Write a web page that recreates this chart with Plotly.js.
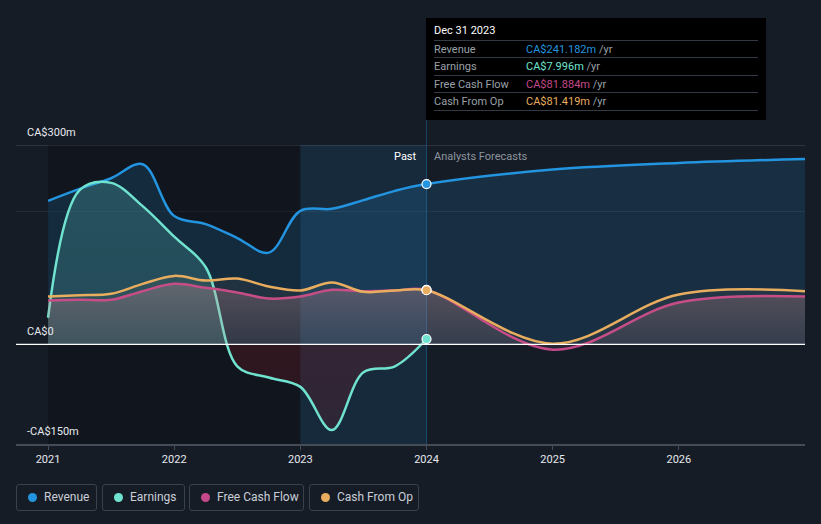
<!DOCTYPE html>
<html><head><meta charset="utf-8">
<script src="https://cdn.plot.ly/plotly-3.0.1.min.js"></script>
<style>
html,body{margin:0;padding:0;background:#161c26;overflow:hidden;}
#wrap{position:relative;width:821px;height:524px;font-family:Roboto,"Open Sans",sans-serif;}
#chart{position:absolute;left:0;top:0;width:821px;height:524px;}
#tip{position:absolute;left:426px;top:18px;width:340px;height:102px;background:#000;font-size:11px;}
#tip .hd{position:absolute;left:8px;top:6px;color:#fff;}
#tip .row{position:absolute;left:8px;width:324px;height:17px;border-top:1px solid #333a44;}
#tip .lb{position:absolute;left:0;top:2px;color:#9aa0a8;}
#tip .vl{position:absolute;left:92px;top:2px;}
#tip .yr{color:#9aa0a8;}
#tip .last{position:absolute;left:8px;width:324px;top:92px;border-top:1px solid #333a44;}
#legend{position:absolute;top:484px;left:16px;font-size:12px;color:#c9ced6;}
.lg{position:absolute;top:0;height:27px;border:1px solid #3a414c;border-radius:3px;box-sizing:border-box;}
.lg .dot{position:absolute;left:11px;top:8px;width:9px;height:9px;border-radius:50%;}
.lg .tx{position:absolute;left:27px;top:5px;white-space:nowrap;}
</style></head>
<body><div id="wrap"><div id="chart"></div>
<div id="tip"></div>
<div id="legend"></div>
</div>
<script>
// ---- data (CA$ millions) ----
const pastX = [2021.0, 2021.25, 2021.5, 2021.75, 2022.0, 2022.25, 2022.5, 2022.75, 2023.0, 2023.25, 2023.5, 2023.75, 2024.0];
const revenuePast  = [216, 234, 250, 271, 193, 181, 160, 138, 201, 204, 217, 231, 241.182];
const earningsPast = [40, 232, 243, 208, 162, 116, -33, -50, -64, -129, -42, -33, 7.996];
const fcfPast      = [66, 67, 67, 80, 91, 85, 78, 69, 72, 82, 80, 81, 81.884];
const cfoPast      = [72, 74, 76, 91, 103, 96, 99, 87, 81, 93, 79, 81, 81.419];
const forecastX = [2025, 2026, 2027];
const revenueForecast = [263, 273, 279];
const fcfForecast     = [-8, 63, 72];
const cfoForecast     = [1, 75, 80];
const yTickVals = [300, 0, -150];
const yTickText = ["CA$300m", "CA$0", "-CA$150m"];
const xTickVals = [2021, 2022, 2023, 2024, 2025, 2026];
const names = ["Revenue", "Earnings", "Free Cash Flow", "Cash From Op"];
const colors = ["#2394df", "#6fe3cf", "#c5488a", "#e8ad5e"];
const tipDate = "Dec 31 2023";
const tipValues = ["CA$241.182m", "CA$7.996m", "CA$81.884m", "CA$81.419m"];

const allX = pastX.concat(forecastX);
const revenue = revenuePast.concat(revenueForecast);
const fcf = fcfPast.concat(fcfForecast);
const cfo = cfoPast.concat(cfoForecast);
const last = pastX.length - 1;

function line(x, y, color, fillcolor, extra) {
  return Object.assign({
    type: 'scatter', mode: 'lines', x: x, y: y,
    line: {color: color, width: 2.5, shape: 'spline', smoothing: 1},
    fill: 'tozeroy', fillcolor: fillcolor, hoverinfo: 'skip', showlegend: false
  }, extra || {});
}
const traces = [
  line(allX, revenue, colors[0], 'rgba(35,148,223,0.16)'),
  line(pastX, earningsPast, colors[1], 'rgba(111,227,207,0.3)', {
    fillgradient: {type: 'vertical', start: -150, stop: 300,
      colorscale: [[0, 'rgba(120,25,35,0.22)'], [0.333, 'rgba(120,25,35,0.3)'],
                   [0.334, 'rgba(95,200,195,0.2)'], [1, 'rgba(95,200,195,0.26)']]}
  }),
  line(allX, fcf, colors[2], 'rgba(197,72,138,0.16)', {
    fillgradient: {type: 'vertical', start: 0, stop: 100,
      colorscale: [[0, 'rgba(200,130,150,0.1)'], [1, 'rgba(210,150,160,0.32)']]}
  }),
  line(allX, cfo, colors[3], 'rgba(232,173,94,0.06)'),
  {type: 'scatter', mode: 'markers', x: [pastX[last], pastX[last], pastX[last], pastX[last]],
   y: [revenuePast[last], earningsPast[last], fcfPast[last], cfoPast[last]],
   marker: {size: 9, color: [colors[0], colors[1], colors[2], colors[3]], line: {color: '#fff', width: 1.2}},
   hoverinfo: 'skip', showlegend: false}
];
const annotations = yTickVals.map((v, i) => ({
  xref: 'paper', x: 0, xanchor: 'left', xshift: 9, yref: 'y', y: v, yanchor: 'bottom', yshift: 4,
  text: yTickText[i], showarrow: false, font: {color: '#e6e9ee', size: 11}
}));
annotations.push({xref: 'x', x: 2024, xanchor: 'right', xshift: -8, yref: 'y', y: 300, yanchor: 'top', yshift: -3,
  text: 'Past', showarrow: false, font: {color: '#ffffff', size: 11}});
annotations.push({xref: 'x', x: 2024, xanchor: 'left', xshift: 5, yref: 'y', y: 300, yanchor: 'top', yshift: -3,
  text: 'Analysts Forecasts', showarrow: false, font: {color: '#8d949e', size: 11}});

const shapes = [
  {type: 'rect', layer: 'below', xref: 'x', yref: 'y', x0: 2021, x1: 2023, y0: -150, y1: 300,
   fillcolor: 'rgba(0,0,0,0.2)', line: {width: 0}},
  {type: 'rect', layer: 'below', xref: 'x', yref: 'y', x0: 2023, x1: 2024, y0: -150, y1: 300,
   fillcolor: 'rgba(35,148,223,0.12)', line: {width: 0}},
  {type: 'line', layer: 'below', xref: 'x', yref: 'paper', x0: 2024, x1: 2024, y0: 0, y1: 1.085,
   line: {color: 'rgba(35,148,223,0.35)', width: 1}},
  {type: 'line', layer: 'below', xref: 'paper', yref: 'y', x0: 0, x1: 1, y0: 300, y1: 300,
   line: {color: '#454c57', width: 1}},
  {type: 'line', layer: 'below', xref: 'paper', yref: 'y', x0: 0, x1: 1, y0: 200, y1: 200,
   line: {color: 'rgba(255,255,255,0.07)', width: 1}},
  {type: 'line', layer: 'above', xref: 'paper', yref: 'y', x0: 0, x1: 1, y0: 0, y1: 0,
   line: {color: '#ffffff', width: 1.2}}
];

const layout = {
  width: 821, height: 524,
  margin: {l: 16, r: 16, t: 145, b: 80},
  paper_bgcolor: '#161c26', plot_bgcolor: '#161c26',
  font: {family: 'Roboto, "Open Sans", sans-serif', color: '#e6e9ee', size: 11},
  xaxis: {range: [2020.746, 2027], tickvals: xTickVals, ticktext: xTickVals.map(String),
    showgrid: false, zeroline: false, showline: true, linecolor: '#454c57', linewidth: 1.5,
    ticks: 'outside', ticklen: 4, tickcolor: '#454c57', tickfont: {size: 11, color: '#e6e9ee'}, fixedrange: true},
  yaxis: {range: [-150, 300], showgrid: false, zeroline: false, showticklabels: false, fixedrange: true},
  shapes: shapes, annotations: annotations, showlegend: false
};
Plotly.newPlot('chart', traces, layout, {staticPlot: true, displayModeBar: false});

// tooltip
const tip = document.getElementById('tip');
let html = '<div class="hd">' + tipDate + '</div>';
names.forEach((n, i) => {
  html += '<div class="row" style="top:' + (22 + i * 17.3) + 'px"><span class="lb">' + n +
    '</span><span class="vl"><span style="color:' + colors[i] + '">' + tipValues[i] + '</span> <span class="yr">/yr</span></span></div>';
});
html += '<div class="last"></div>';
tip.innerHTML = html;

// legend
const lgLeft = [0, 86, 173, 293];
const lgW = [81, 83, 115, 110];
const lg = document.getElementById('legend');
lg.innerHTML = names.map((n, i) => '<div class="lg" style="left:' + lgLeft[i] + 'px;width:' + lgW[i] + 'px"><span class="dot" style="background:' +
  colors[i] + '"></span><span class="tx">' + n + '</span></div>').join('');
</script></body></html>
